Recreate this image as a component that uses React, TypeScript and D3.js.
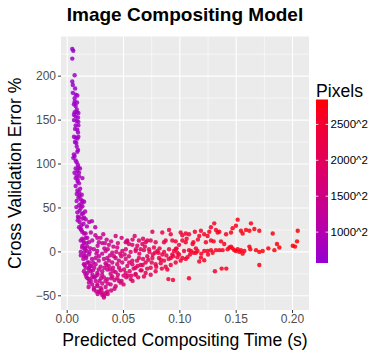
import React from 'react'
import * as d3 from 'd3'

// [predicted time (s), cross validation error %, image side (px)]
const spikeRuns: [number, number, number][] = [
  [0.0045, 231, 570], [0.0054, 229, 600], [0.0045, 220, 610], [0.0066, 201, 640], [0.0045, 194, 620],
  [0.005, 190, 630], [0.005, 181, 640], [0.0075, 179, 660], [0.009, 178, 680], [0.0066, 175, 650],
  [0.0066, 171, 660], [0.0087, 170, 690], [0.006, 168, 650], [0.0075, 166, 680], [0.0066, 159, 670],
  [0.0084, 159, 700], [0.0099, 158, 720], [0.006, 156, 660], [0.0075, 154, 690], [0.0096, 153, 720],
  [0.006, 150, 670], [0.0084, 149, 700], [0.0099, 148, 730], [0.0075, 144, 700], [0.0099, 144, 740],
  [0.009, 139, 720], [0.0096, 136, 740], [0.006, 131, 690], [0.0075, 130, 710], [0.009, 129, 730],
  [0.0099, 131, 750], [0.0069, 125, 710], [0.0081, 124, 730], [0.0096, 116, 760], [0.009, 114, 750],
  [0.006, 111, 720], [0.0066, 109, 730], [0.0054, 107, 710], [0.0084, 102, 760], [0.0075, 95, 760],
  [0.0099, 96, 790], [0.0114, 95, 810], [0.009, 92, 780], [0.0105, 90, 800], [0.0084, 87, 780],
  [0.0105, 86, 810], [0.0075, 84, 770], [0.0093, 82, 800], [0.0135, 84, 850], [0.0093, 80, 800],
  [0.0105, 78, 820], [0.0075, 75, 790], [0.009, 70, 810], [0.0105, 68, 830], [0.011, 64, 840],
  [0.0129, 65, 870], [0.0099, 62, 830], [0.012, 60, 860], [0.0084, 58, 820], [0.0135, 58, 880],
  [0.015, 57, 900], [0.0105, 53, 850], [0.0081, 51, 830], [0.012, 50, 870], [0.0135, 52, 890],
  [0.011, 47, 870], [0.009, 45, 850], [0.0129, 43, 900], [0.0141, 44, 910], [0.0159, 46, 930],
  [0.0105, 39, 880], [0.0135, 38, 910], [0.015, 39, 930], [0.0093, 36, 870], [0.011, 34, 890],
  [0.0165, 37, 950], [0.0195, 34, 990], [0.0219, 35, 1020], [0.0249, 28, 1050],
  [0.007, 186, 650], [0.0085, 162, 700], [0.007, 140, 690], [0.0085, 120, 740], [0.0075, 104, 740],
  [0.0095, 99, 780], [0.0065, 90, 760], [0.0115, 72, 850], [0.0085, 66, 810], [0.0125, 55, 880],
  [0.0095, 40, 860], [0.0125, 30, 910], [0.0145, 32, 930], [0.0175, 29, 970],
]

const troughRuns: [number, number, number][] = [
  [0.0119, 26, 950], [0.0133, 23, 980], [0.0163, 21, 1000], [0.0178, 16, 1030], [0.0267, 16, 1250],
  [0.0296, 16, 1300], [0.043, 18, 1550], [0.0483, 16, 1650], [0.0533, 13, 1700], [0.0599, 18, 1800],
  [0.0637, 13, 1850], [0.0673, 15, 1900], [0.0756, 23, 2000], [0.0711, 13, 1950],
  [0.0133, 15, 1000], [0.0148, 10, 1020], [0.0193, 11, 1100], [0.0222, 13, 1150], [0.0281, 11, 1280],
  [0.0311, 10, 1330], [0.0335, 10, 1380], [0.037, 8, 1450], [0.0444, 5, 1600], [0.0519, 11, 1720],
  [0.0548, 9, 1750], [0.0578, 8, 1800], [0.0622, 7, 1880], [0.0667, 9, 1950], [0.0696, 11, 1980],
  [0.0741, 13, 2050], [0.0785, 11, 2100], [0.0904, 25, 2300], [0.0919, 20, 2350], [0.0859, 11, 2250],
  [0.0874, 13, 2280], [0.0933, 13, 2350],
  [0.0133, 5, 1020], [0.0157, 3, 1060], [0.0172, 1, 1080], [0.0207, 4, 1150], [0.0237, 3, 1200],
  [0.0267, 1, 1250], [0.0341, 1, 1400], [0.04, -1, 1480], [0.0436, 0, 1550], [0.0489, 1, 1650],
  [0.051, -3, 1700], [0.0563, 0, 1780], [0.0607, 1, 1850], [0.0652, 3, 1920], [0.0681, 2, 1950],
  [0.0726, 3, 2050], [0.0779, -1, 2150], [0.08, 1, 2200], [0.0844, -3, 2250], [0.0904, 3, 2320],
  [0.0948, 1, 2380], [0.0993, -3, 2420],
  [0.0148, -5, 1080], [0.0169, -7, 1100], [0.0193, -3, 1130], [0.0252, -7, 1250], [0.0281, -5, 1300],
  [0.0326, -8, 1380], [0.0356, -7, 1430], [0.037, -10, 1470], [0.0415, -5, 1530], [0.0459, -10, 1620],
  [0.0519, -8, 1720], [0.0548, -5, 1770], [0.0578, -10, 1830], [0.0637, -7, 1900], [0.0673, -8, 1950],
  [0.0711, -5, 2020], [0.0756, -7, 2100], [0.0815, -7, 2200], [0.0859, -10, 2280], [0.0919, -7, 2330],
  [0.0978, -6, 2400], [0.1022, -7, 2450], [0.1052, -8, 2480],
  [0.0148, -14, 1100], [0.0163, -18, 1130], [0.0193, -12, 1150], [0.0216, -16, 1200], [0.0252, -14, 1270],
  [0.0296, -17, 1350], [0.0341, -13, 1420], [0.037, -16, 1480], [0.0406, -18, 1550], [0.0444, -14, 1600],
  [0.0489, -12, 1680], [0.0533, -16, 1760], [0.0578, -14, 1830], [0.0607, -18, 1880], [0.0652, -15, 1950],
  [0.0696, -12, 2000], [0.0741, -18, 2100], [0.0785, -14, 2150], [0.083, -13, 2220], [0.0874, -17, 2300],
  [0.0148, -22, 1120], [0.0178, -24, 1160], [0.0193, -20, 1170], [0.0228, -21, 1230], [0.0267, -24, 1300],
  [0.0311, -22, 1380], [0.0356, -20, 1450], [0.0385, -25, 1520], [0.043, -23, 1580], [0.0474, -21, 1650],
  [0.0519, -24, 1730], [0.0554, -22, 1800], [0.0607, -25, 1900], [0.0652, -21, 1950], [0.0696, -24, 2030],
  [0.0741, -26, 2100], [0.0785, -22, 2150], [0.0889, -20, 2300],
  [0.0169, -28, 1180], [0.0193, -31, 1220], [0.0222, -29, 1250], [0.0252, -28, 1300], [0.0287, -33, 1380],
  [0.0326, -29, 1420], [0.0356, -31, 1480], [0.04, -28, 1550], [0.0444, -30, 1630], [0.0483, -33, 1700],
  [0.0524, -29, 1780], [0.0563, -31, 1850], [0.0607, -26, 1920], [0.0681, -28, 2050], [0.0898, -31, 2350],
  [0.0939, -32, 2400],
  [0.0193, -35, 1250], [0.0222, -37, 1300], [0.0237, -41, 1350], [0.0267, -39, 1400], [0.0311, -36, 1450],
  [0.0341, -40, 1500], [0.0385, -37, 1570], [0.043, -39, 1650], [0.0474, -35, 1720],
  [0.0237, -43, 1380], [0.0258, -45, 1420], [0.0305, -43, 1480], [0.0311, -49, 1500], [0.0326, -52, 1550],
  [0.0341, -47, 1530], [0.0356, -45, 1550],
  [0.0105, 28, 900], [0.0126, 25, 940], [0.0149, 21, 980], [0.0164, 16, 1000], [0.0143, 13, 990],
  [0.0135, 7, 1000], [0.0156, 5, 1030], [0.0179, 6, 1060], [0.0149, -1, 1050], [0.0121, -4, 1020],
  [0.0164, -5, 1080], [0.0143, -8, 1060], [0.0179, -12, 1120], [0.0156, -15, 1100], [0.0194, -18, 1150],
  [0.0209, -22, 1180], [0.0224, -26, 1220], [0.0239, -29, 1260], [0.0253, -33, 1300], [0.0268, -37, 1340],
  [0.0298, -41, 1400], [0.0283, -45, 1390], [0.0313, -47, 1450], [0.0327, -50, 1500],
  [0.022, -8, 1200], [0.028, -10, 1300], [0.031, -26, 1400], [0.036, -36, 1520], [0.041, -22, 1570],
  [0.045, -26, 1650], [0.027, 7, 1250], [0.033, 4, 1350], [0.038, -4, 1450], [0.043, -7, 1580],
  [0.019, -40, 1250], [0.0505, -20, 1750], [0.057, -27, 1870], [0.0625, -16, 1950], [0.066, -21, 2000],
  [0.072, -9, 2080], [0.076, -3, 2120], [0.081, -1, 2180], [0.084, -19, 2250], [0.088, -4, 2280],
  [0.053, 12, 1750], [0.058, 14, 1820], [0.061, 3, 1880], [0.064, -2, 1920], [0.069, 6, 1990],
  [0.073, 0, 2060], [0.077, 5, 2120], [0.082, 4, 2200], [0.086, 0, 2260], [0.09, -8, 2320],
  [0.094, -5, 2380], [0.097, 4, 2420], [0.055, -12, 1800], [0.059, -19, 1860], [0.062, -10, 1900],
  [0.067, -15, 1980], [0.071, -19, 2050], [0.075, -12, 2100], [0.079, -17, 2160], [0.083, -9, 2220],
  [0.054, -27, 1800], [0.058, -33, 1870], [0.063, -29, 1950], [0.05, -37, 1760], [0.046, -33, 1700],
  [0.042, -42, 1650], [0.039, -44, 1600], [0.036, -48, 1560], [0.029, -46, 1420], [0.027, -48, 1400],
  [0.021, -33, 1220], [0.018, -30, 1180], [0.016, -25, 1120], [0.02, -16, 1160], [0.024, -18, 1230],
  [0.027, -26, 1300], [0.03, -30, 1380], [0.034, -33, 1450], [0.039, -30, 1550], [0.042, -32, 1600],
  [0.046, -18, 1650], [0.05, -27, 1720], [0.033, -18, 1420], [0.038, -20, 1500], [0.028, -20, 1330],
  [0.023, -12, 1220], [0.026, -2, 1260], [0.031, -2, 1350], [0.035, -15, 1450], [0.04, -12, 1520],
  [0.048, -5, 1660], [0.052, 3, 1740], [0.045, 10, 1620], [0.039, 12, 1520], [0.035, 14, 1450],
  [0.025, 19, 1220], [0.021, 22, 1150], [0.032, 20, 1350], [0.036, 3, 1450], [0.041, 6, 1550],
  [0.047, -2, 1650], [0.017, 10, 1050], [0.02, 0, 1100], [0.012, 0, 1000], [0.012, 13, 960],
]

const armRuns: [number, number, number][] = [
  [0.1007, 22, 2450], [0.1022, 19, 2480], [0.1052, 21, 2500], [0.1081, 20, 2520], [0.1022, 13, 2470],
  [0.0963, 12, 2420], [0.0993, 8, 2440], [0.1052, 11, 2500], [0.1081, -30, 2550], [0.1081, 2, 2530],
  [0.1067, -6, 2510], [0.0963, 3, 2420], [0.0978, -1, 2430], [0.1037, 1, 2480], [0.0933, -3, 2380],
  [0.1007, -10, 2460], [0.0963, -12, 2420], [0.0919, -15, 2380], [0.0844, 22, 2250],
  [0.1305, 32.5, 2650], [0.1513, 36.7, 2720], [0.1631, 32.5, 2760], [0.1498, 29.8, 2720], [0.1468, 27, 2700],
  [0.1454, 22, 2700], [0.1542, 24, 2730], [0.1557, 21, 2730], [0.1587, 25, 2750], [0.1617, 24, 2760],
  [0.1661, 26, 2770], [0.1705, 24, 2780], [0.1824, 21, 2800], [0.2046, 24, 2847],
  [0.1276, 28, 2640], [0.1261, 23, 2630], [0.132, 25, 2650], [0.1335, 22, 2660], [0.135, 23, 2660],
  [0.1187, 24, 2600], [0.1216, 20, 2610], [0.1246, 18, 2620], [0.1172, 18, 2590], [0.1133, 23, 2570],
  [0.1276, 13, 2640], [0.1231, 11, 2620], [0.13, 12, 2650], [0.1365, 12, 2670], [0.1394, 9, 2680],
  [0.1113, 9, 2560], [0.1142, 4, 2570], [0.1098, 1, 2550], [0.1122, -1, 2560], [0.1142, -1, 2570],
  [0.1157, 1, 2580], [0.1216, 1, 2600], [0.1246, 1, 2620], [0.1276, 2, 2640], [0.1291, -1, 2640],
  [0.132, 2, 2650], [0.135, 2, 2660], [0.1379, 2, 2670], [0.1424, 3, 2690], [0.1439, 5, 2690],
  [0.1454, 6, 2700], [0.1468, 4, 2700], [0.1483, 2, 2710], [0.1498, 1, 2710], [0.1513, 3, 2720],
  [0.1528, 0, 2720], [0.1542, 2, 2730], [0.1557, -2, 2730], [0.1572, 1, 2740], [0.1617, 6, 2750],
  [0.1625, 3, 2750], [0.1676, 2, 2770], [0.1705, 0, 2780], [0.1735, 1, 2780], [0.1785, 4, 2790],
  [0.1839, 2, 2800], [0.1862, 9, 2810], [0.1883, 5, 2810], [0.2002, 7, 2830], [0.2022, 6, 2840],
  [0.204, 12, 2840],
  [0.1187, -6.5, 2600], [0.1216, -9.6, 2610], [0.1172, -11, 2590], [0.1705, -15, 2780], [0.1311, -22, 2650],
  [0.1371, -19, 2670], [0.1412, -19, 2680],
  [0.106, 15, 2500], [0.112, 11, 2560], [0.116, 14, 2580], [0.109, -3, 2540], [0.119, -2, 2600],
  [0.125, -3, 2620], [0.141, 20, 2680],
]

const runs = [...spikeRuns, ...troughRuns, ...armRuns]

const xTicks = [0, 0.05, 0.1, 0.15, 0.2]
const xMinor = [0.025, 0.075, 0.125, 0.175]
const yTicks = [-50, 0, 50, 100, 150, 200]
const yMinor = [-25, 25, 75, 125, 175, 225]
const legendTicks = [1000, 1500, 2000, 2500]

const width = 369
const height = 353
const panel = { left: 61, right: 309, top: 36.5, bottom: 310 }
const font = 'Liberation Sans, Arial, Helvetica, sans-serif'

// ggplot-style 5% padding on both ends
function expand(ext: [number, number]): [number, number] {
  const pad = (ext[1] - ext[0]) * 0.05
  return [ext[0] - pad, ext[1] + pad]
}

export default function App() {
  const x = d3.scaleLinear()
    .domain(expand(d3.extent(runs, d => d[0]) as [number, number]))
    .range([panel.left, panel.right])
  const y = d3.scaleLinear()
    .domain(expand(d3.extent(runs, d => d[1]) as [number, number]))
    .range([panel.bottom, panel.top])
  const sideExtent = d3.extent(runs, d => d[2]) as [number, number]
  const color = d3.scaleLinear<string>()
    .domain(sideExtent)
    .range(['#9400D3', '#FF0000'])
    .interpolate(d3.interpolateLab)

  const bar = { x: 316, w: 12, top: 99.5, bottom: 263 }
  const barY = d3.scaleLinear().domain(sideExtent).range([bar.bottom, bar.top])
  const stops = d3.range(0, 1.0001, 0.05)

  return (
    <svg width={width} height={height} style={{ position: 'absolute', left: 0, top: 0, background: '#fff' }}
      fontFamily={font}>
      <defs>
        <linearGradient id="pixels" x1="0" y1="1" x2="0" y2="0">
          {stops.map(t => (
            <stop key={t} offset={t} stopColor={color(sideExtent[0] + t * (sideExtent[1] - sideExtent[0]))} />
          ))}
        </linearGradient>
      </defs>

      <text x={(panel.left + panel.right) / 2} y={21} textAnchor="middle" fontSize={19} fontWeight="bold">
        Image Compositing Model
      </text>

      <rect x={panel.left} y={panel.top} width={panel.right - panel.left} height={panel.bottom - panel.top} fill="#EBEBEB" />
      {xMinor.map(v => (
        <line key={'xm' + v} x1={x(v)} x2={x(v)} y1={panel.top} y2={panel.bottom} stroke="#fff" strokeWidth={0.55} />
      ))}
      {yMinor.map(v => (
        <line key={'ym' + v} x1={panel.left} x2={panel.right} y1={y(v)} y2={y(v)} stroke="#fff" strokeWidth={0.55} />
      ))}
      {xTicks.map(v => (
        <line key={'xg' + v} x1={x(v)} x2={x(v)} y1={panel.top} y2={panel.bottom} stroke="#fff" strokeWidth={1.1} />
      ))}
      {yTicks.map(v => (
        <line key={'yg' + v} x1={panel.left} x2={panel.right} y1={y(v)} y2={y(v)} stroke="#fff" strokeWidth={1.1} />
      ))}

      <g>
        {runs.map((d, i) => (
          <circle key={i} cx={x(d[0])} cy={y(d[1])} r={2.2} fill={color(d[2])} fillOpacity={0.85} />
        ))}
      </g>

      {xTicks.map(v => (
        <g key={'xt' + v}>
          <line x1={x(v)} x2={x(v)} y1={panel.bottom} y2={panel.bottom + 3} stroke="#333" strokeWidth={1} />
          <text x={x(v)} y={panel.bottom + 13} textAnchor="middle" fontSize={12} fill="#4D4D4D">
            {d3.format('.2f')(v)}
          </text>
        </g>
      ))}
      {yTicks.map(v => (
        <g key={'yt' + v}>
          <line x1={panel.left - 3} x2={panel.left} y1={y(v)} y2={y(v)} stroke="#333" strokeWidth={1} />
          <text x={panel.left - 5} y={y(v)} dy="0.35em" textAnchor="end" fontSize={12} fill="#4D4D4D">
            {d3.format('')(v).replace('-', '\u2212')}
          </text>
        </g>
      ))}

      <text x={(panel.left + panel.right) / 2} y={346} textAnchor="middle" fontSize={17.6}>
        Predicted Compositing Time (s)
      </text>
      <text transform={`translate(21,${(panel.top + panel.bottom) / 2}) rotate(-90)`} textAnchor="middle" fontSize={17.6}>
        Cross Validation Error %
      </text>

      <text x={316} y={97} fontSize={17.6}>Pixels</text>
      <rect x={bar.x} y={bar.top} width={bar.w} height={bar.bottom - bar.top} fill="url(#pixels)" />
      {legendTicks.map(v => (
        <g key={'lt' + v}>
          <line x1={bar.x} x2={bar.x + 2.4} y1={barY(v)} y2={barY(v)} stroke="#fff" strokeWidth={0.8} />
          <line x1={bar.x + bar.w - 2.4} x2={bar.x + bar.w} y1={barY(v)} y2={barY(v)} stroke="#fff" strokeWidth={0.8} />
          <text x={bar.x + bar.w + 2.5} y={barY(v)} dy="0.35em" fontSize={11.5}>{v}^2</text>
        </g>
      ))}
    </svg>
  )
}
